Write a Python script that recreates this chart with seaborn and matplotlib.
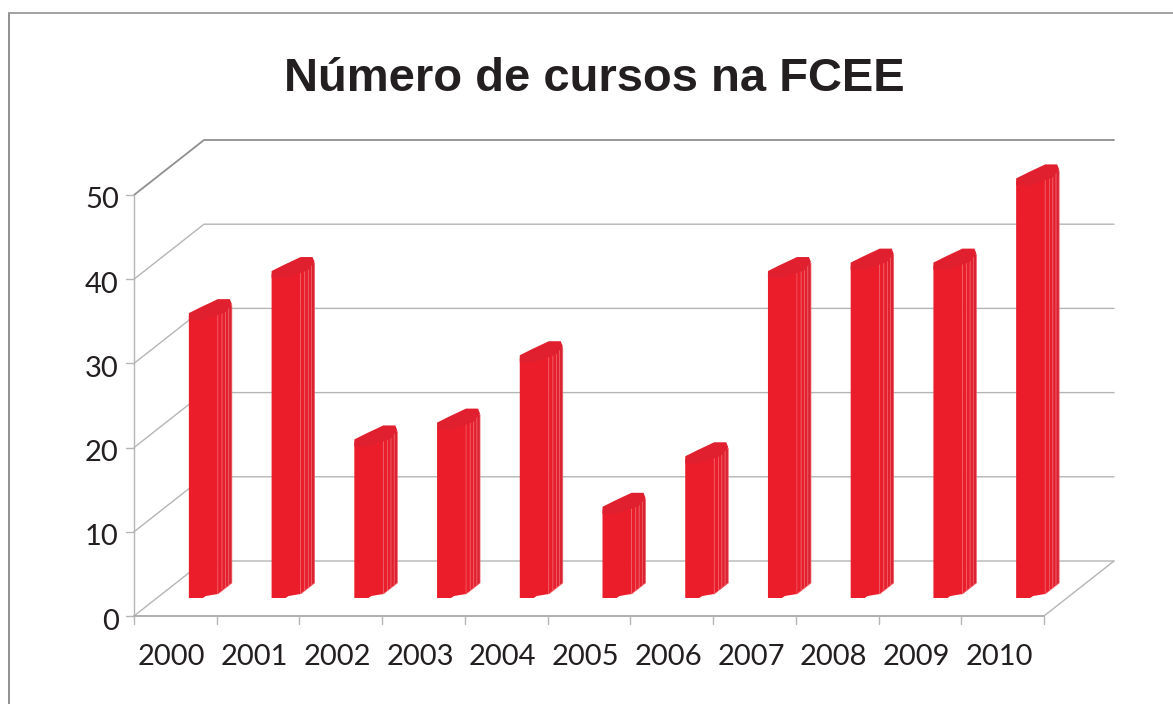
import numpy as np
import pandas as pd
import seaborn as sns
import matplotlib
matplotlib.use("Agg")
import matplotlib.pyplot as plt
from matplotlib.patches import Polygon
from matplotlib.lines import Line2D
from matplotlib.transforms import ScaledTranslation

years = ["2000", "2001", "2002", "2003", "2004", "2005", "2006", "2007", "2008", "2009", "2010"]
counts = [33, 38, 18, 20, 28, 10, 16, 38, 39, 39, 49]
y_ticks = [0, 10, 20, 30, 40, 50]
title = "Número de cursos na FCEE"

W, H = 1173, 704
sns.set_theme(style="white")
fig = plt.figure(figsize=(W / 100, H / 100), dpi=100, facecolor="white")
L, R, B, T = 134, 1044, 616, 195
ax = fig.add_axes([L / W, 1 - B / H, (R - L) / W, (B - T) / H])
df = pd.DataFrame({"year": years, "count": counts})
sns.barplot(data=df, x="year", y="count", color="#EC1D2B", saturation=1, width=29 / 82.73, ax=ax, zorder=5)
ax.set_xlim(-0.5, 10.5)
ax.set_ylim(0, 50)
ax.patch.set_alpha(0)
ax.set_xlabel("")
ax.set_ylabel("")
ax.set_yticks(y_ticks)
ax.tick_params(axis="x", length=0, labelsize=21, labelcolor="#231F20", pad=20)
ax.tick_params(axis="y", length=0, labelsize=21, labelcolor="#231F20", pad=11)
for lab in ax.get_xticklabels():
    lab.set_fontfamily("Lato")
    lab.set_transform(lab.get_transform() + ScaledTranslation(-3.5 / 100, 0, fig.dpi_scale_trans))
for lab in ax.get_yticklabels():
    lab.set_fontfamily("Lato")
    lab.set_transform(lab.get_transform() + ScaledTranslation(0, -3 / 100, fig.dpi_scale_trans))
for s in ax.spines.values():
    s.set_visible(False)


def add_line(xs, ys, color="#B5B5B5", lw=1.0, z=1):
    fig.add_artist(Line2D([x / W for x in xs], [1 - y / H for y in ys], color=color, lw=lw, zorder=z))


# outer chart frame: only the top and left edges are in the picture
add_line([8.5, 8.5], [704, 12.5], color="#7D7D7D", lw=1.2)
add_line([8.5, 1173], [12.5, 12.5], color="#9A9A9A", lw=1.3)

# 3-D walls, placed through the y axis scale
DX, DY = 70, 55
for v in y_ticks:
    py = H - ax.transData.transform((0, v))[1]
    c = "#8F8F8F" if v == 50 else "#B5B5B5"
    add_line([L, L + DX, 1114], [py, py - DY, py - DY], color=c, lw=1.3 if v == 50 else 1.0)
    add_line([L - 8, L], [py, py], color="#B5B5B5")
p0 = H - ax.transData.transform((0, 0))[1]
p50 = H - ax.transData.transform((0, 50))[1]
add_line([L, L], [p0, p50])
add_line([L, R], [p0, p0], color="#A8A8A8", lw=1.3)
add_line([R, 1114], [p0, p0 - DY])
for i in range(len(years) + 1):
    px = ax.transData.transform((i - 0.5, 0))[0]
    add_line([px, px], [p0, p0 + 8])

# bars: shift the front face back in depth, add side facets and cap
ox, oy = 28, 18
facet_colors = ["#EA1E2B", "#E71F2D", "#E2202E", "#DB2231"]
ts = np.array([0.0, 0.3, 0.55, 0.78, 1.0])
sdx, sdy0, sdy1 = 14, 4, 15
for bar in ax.patches:
    (x0, y0), (x1, y1) = bar.get_window_extent().get_points()
    x0 += ox; x1 += ox; y0 += oy; y1 += oy
    bar.set_visible(False)
    kw = dict(transform=None, zorder=6)
    front = [(x0, y0), (x0 + 14, y0), (x0 + 17, y0 + 2), (x1, y0 + sdy0), (x1, y1 + 8), (x0, y1 + 4)]
    fig.add_artist(Polygon(front, fc="#EC1D2B", ec="none", **kw))
    for k in range(4):
        a, b = ts[k], ts[k + 1]
        ya = y0 + sdy0 + a * (sdy1 - sdy0)
        yb = y0 + sdy0 + b * (sdy1 - sdy0)
        pts = [(x1 + a * sdx, ya), (x1 + b * sdx, yb), (x1 + b * sdx, y1 + 15), (x1 + a * sdx, y1 + 15)]
        fig.add_artist(Polygon(pts, fc=facet_colors[k], ec="#F0606A", lw=0.5, **kw))
    cap = [(x0, y1), (x0, y1 + 7), (x0 + 12, y1 + 13), (x0 + 29, y1 + 21),
           (x0 + 41, y1 + 21), (x0 + 43, y1 + 16), (x0 + 36, y1 + 7.5), (x0 + 14, y1)]
    fig.add_artist(Polygon(cap, fc="#E0202E", ec="none", **kw))

fig.text(594 / W, 1 - 79 / H, title, ha="center", va="center", fontsize=33.9, fontweight="bold",
         family="Liberation Sans", color="#231F20")
fig.savefig("out.png", dpi=100)
